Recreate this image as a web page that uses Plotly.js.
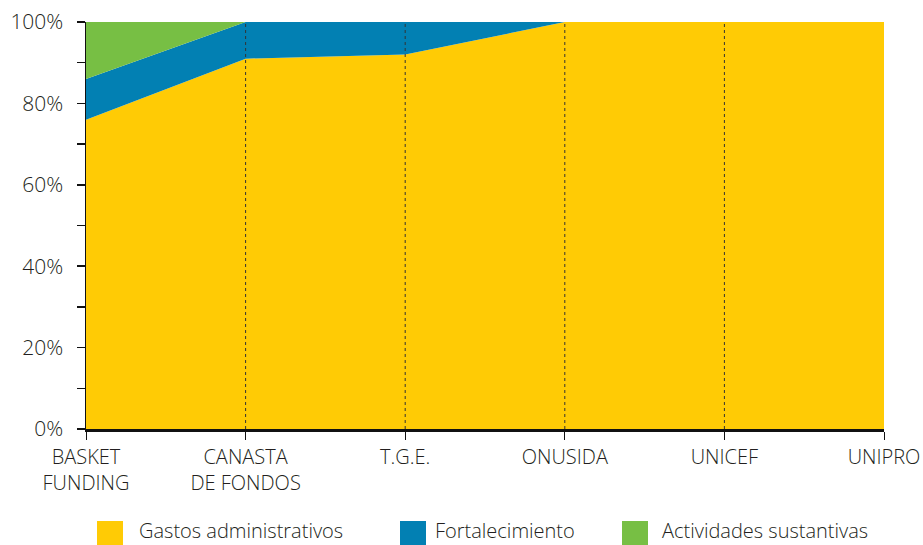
<!DOCTYPE html>
<html>
<head>
<meta charset="utf-8">
<script src="https://cdn.plot.ly/plotly-3.0.1.min.js"></script>
<style>html,body{margin:0;padding:0;background:#fff;}#chart{width:923px;height:545px;}</style>
</head>
<body>
<div id="chart"></div>
<script>
var categories = ["BASKET<br>FUNDING", "CANASTA<br>DE FONDOS", "T.G.E.", "ONUSIDA", "UNICEF", "UNIPRO"];
var gastos = [76, 91, 92, 100, 100, 100];
var fortalecimiento = [10, 9, 8, 0, 0, 0];
var actividades = [14, 0, 0, 0, 0, 0];
var seriesNames = ["Gastos administrativos", "Fortalecimiento", "Actividades sustantivas"];
var seriesColors = ["#FFCB05", "#0280B3", "#77BF44"];
var yTickVals = [0, 20, 40, 60, 80, 100];
var yTickText = ["0%", "20%", "40%", "60%", "80%", "100%"];

var seriesData = [gastos, fortalecimiento, actividades];
var traces = seriesData.map(function (vals, i) {
  return {
    type: "scatter",
    mode: "lines",
    x: categories,
    y: vals,
    name: seriesNames[i],
    stackgroup: "one",
    line: {width: 0, color: seriesColors[i]},
    fillcolor: seriesColors[i],
    showlegend: false,
    hoverinfo: "skip"
  };
});

var textColor = "#231f20";
var fontFam = "Open Sans, sans-serif";
var shapes = [];
categories.forEach(function (c, i) {
  if (i > 0 && i < categories.length - 1) {
    shapes.push({type: "line", xref: "x", yref: "paper", x0: c, x1: c, y0: 0, y1: 1,
      line: {color: "#333", width: 1, dash: "3px,3px"}, layer: "above"});
  }
});

// legend (custom, large swatches)
var legendPos = [
  {sx0: 97, text: 137},
  {sx0: 400, text: 433},
  {sx0: 622, text: 660}
];
var L = 86, PW = 798, T = 22, PH = 407;
function px(x) { return (x - L) / PW; }
function py(y) { return (T + PH - y) / PH; }
var annotations = [];
legendPos.forEach(function (p, i) {
  shapes.push({type: "rect", xref: "paper", yref: "paper",
    x0: px(p.sx0), x1: px(p.sx0 + 26), y0: py(521), y1: py(550),
    fillcolor: seriesColors[i], line: {width: 0}});
  annotations.push({xref: "paper", yref: "paper", x: px(p.text), y: py(546),
    xanchor: "left", yanchor: "bottom", showarrow: false, text: seriesNames[i],
    font: {family: fontFam, size: 20, weight: 300, color: textColor}});
});

var layout = {
  width: 923, height: 545,
  margin: {l: L, r: 923 - L - PW, t: T, b: 545 - T - PH},
  paper_bgcolor: "#fff", plot_bgcolor: "#fff",
  showlegend: false,
  xaxis: {
    type: "category",
    range: [0, categories.length - 1],
    showgrid: false, zeroline: false,
    showline: true, linecolor: "#111", linewidth: 3,
    ticks: "outside", ticklen: 8, tickcolor: "#111", tickwidth: 1,
    tickfont: {family: fontFam, size: 20, weight: 300, color: textColor},
    fixedrange: true
  },
  yaxis: {
    range: [0, 100],
    tickvals: yTickVals,
    ticktext: yTickText,
    showgrid: false, zeroline: false,
    showline: true, linecolor: "#111", linewidth: 1.5,
    ticks: "outside", ticklen: 8, tickcolor: "#111", tickwidth: 1.5,
    ticklabelstandoff: 9,
    minor: {dtick: 10, tick0: 0, ticks: "outside", ticklen: 8, tickcolor: "#111", tickwidth: 1.5, showgrid: false},
    tickfont: {family: fontFam, size: 21, weight: 300, color: textColor},
    fixedrange: true
  },
  shapes: shapes,
  annotations: annotations
};

Plotly.newPlot("chart", traces, layout, {displayModeBar: false, staticPlot: true});
</script>
</body>
</html>
